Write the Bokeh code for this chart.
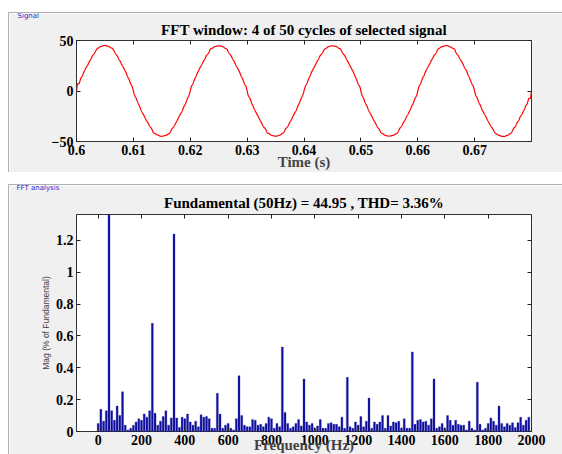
import numpy as np
from bokeh.plotting import figure
from bokeh.layouts import column
from bokeh.models import (Range1d, FixedTicker, NumeralTickFormatter, LinearAxis,
                          CustomJSTickFormatter, Title)
from bokeh.embed import file_html
from bokeh.resources import INLINE

# ---------------- data ----------------
title_top = "FFT window: 4 of 50 cycles of selected signal"
title_bottom = "Fundamental (50Hz) = 44.95 , THD= 3.36%"
fundamental_hz = 50.0
fundamental_amp = 44.95
freq_step = 12.5  # FFT resolution of a 4-cycle (0.08 s) window
t_start, t_end = 0.6, 0.68

# Magnitude (% of fundamental) for 0, 12.5, 25, ... 1987.5 Hz (fundamental bar = 100, clipped)
mags = [
    0.05, 0.14, 0.065, 0.13, 100.0, 0.13, 0.07, 0.16, 0.10, 0.25,
    0.04, 0.01, 0.02, 0.04, 0.06, 0.08, 0.07, 0.11, 0.09, 0.13,
    0.68, 0.115, 0.04, 0.065, 0.095, 0.13, 0.04, 0.085, 1.24, 0.085,
    0.025, 0.09, 0.08, 0.11, 0.06, 0.04, 0.065, 0.03, 0.105, 0.09,
    0.095, 0.08, 0.02, 0.02, 0.24, 0.11, 0.02, 0.04, 0.05, 0.02,
    0.01, 0.08, 0.35, 0.10, 0.04, 0.03, 0.03, 0.075, 0.07, 0.04,
    0.045, 0.03, 0.05, 0.09, 0.08, 0.02, 0.05, 0.03, 0.53, 0.12,
    0.05, 0.02, 0.03, 0.05, 0.075, 0.035, 0.33, 0.06, 0.04, 0.05,
    0.02, 0.035, 0.075, 0.02, 0.02, 0.05, 0.055, 0.045, 0.045, 0.03,
    0.09, 0.02, 0.34, 0.03, 0.02, 0.06, 0.04, 0.095, 0.03, 0.065,
    0.21, 0.02, 0.06, 0.045, 0.06, 0.10, 0.02, 0.10, 0.035, 0.06,
    0.055, 0.065, 0.02, 0.08, 0.02, 0.02, 0.50, 0.045, 0.07, 0.075,
    0.06, 0.065, 0.04, 0.08, 0.33, 0.02, 0.03, 0.05, 0.02, 0.10,
    0.07, 0.04, 0.07, 0.045, 0.04, 0.04, 0.01, 0.065, 0.02, 0.01,
    0.31, 0.045, 0.01, 0.02, 0.05, 0.085, 0.065, 0.04, 0.16, 0.05,
    0.03, 0.05, 0.04, 0.055, 0.025, 0.055, 0.09, 0.04, 0.07, 0.09,
]
freqs = [i * freq_step for i in range(len(mags))]

time_ticks = [0.6, 0.61, 0.62, 0.63, 0.64, 0.65, 0.66, 0.67]
sig_ticks = [-50, 0, 50]
freq_ticks = [0, 200, 400, 600, 800, 1000, 1200, 1400, 1600, 1800, 2000]
mag_ticks = [0, 0.2, 0.4, 0.6, 0.8, 1.0, 1.2]

# waveform rebuilt from the displayed spectrum
t = np.linspace(t_start, t_end, 2001)
sig = np.zeros_like(t)
for f, m in zip(freqs, mags):
    amp = fundamental_amp * (1.0 if f == fundamental_hz else m / 100.0)
    if f == 0:
        sig += amp
    else:
        sig += amp * np.sin(2 * np.pi * f * (t - t_start))

# ---------------- style ----------------
SERIF = "Liberation Serif"
PANEL = "#f0f0f0"
BOXLINE = "#b0b0b0"
BOXCSS = {"border-top": f"1px solid {BOXLINE}", "border-left": f"1px solid {BOXLINE}"}


def style_axis(ax, ticks, fmt=None, size="14px", show=True):
    ax.ticker = FixedTicker(ticks=ticks)
    ax.major_tick_in = 4
    ax.major_tick_out = 0
    ax.minor_tick_line_color = None
    ax.axis_line_color = None
    ax.major_tick_line_color = "#222222"
    ax.major_label_text_font = SERIF
    ax.major_label_text_font_style = "bold"
    ax.major_label_text_color = "black"
    ax.major_label_standoff = 3
    ax.major_label_text_font_size = size
    if fmt:
        ax.formatter = NumeralTickFormatter(format=fmt)
    if not show:
        ax.formatter = CustomJSTickFormatter(code="return ''")
        ax.major_label_text_font_size = "1px"
        ax.major_label_standoff = 0


def make_title(text, size, font, style, color, align="center", offset=0, standoff=0):
    return Title(text=text, text_font=font, text_font_size=size, text_font_style=style,
                 text_color=color, align=align, offset=offset, standoff=standoff)


# ---------------- top: signal ----------------
p1 = figure(width=554, height=160, output_backend="svg", toolbar_location=None,
            x_range=Range1d(t_start, t_end), y_range=Range1d(-50, 50),
            min_border_left=65, min_border_right=31, min_border_top=26, min_border_bottom=32,
            border_fill_color=PANEL, background_fill_color="white",
            outline_line_color="#333333", margin=(12, 0, 12, 8), styles=BOXCSS)
p1.grid.visible = False
style_axis(p1.xaxis[0], time_ticks, "0.[00]")
style_axis(p1.yaxis[0], sig_ticks)
p1.xaxis[0].axis_label = "Time (s)"
p1.xaxis[0].axis_label_text_font = SERIF
p1.xaxis[0].axis_label_text_font_style = "bold"
p1.xaxis[0].axis_label_text_font_size = "15px"
p1.xaxis[0].axis_label_standoff = -4
ax_t = LinearAxis(); style_axis(ax_t, time_ticks, show=False); p1.add_layout(ax_t, "above")
ax_r = LinearAxis(); style_axis(ax_r, sig_ticks, show=False); p1.add_layout(ax_r, "right")
p1.add_layout(make_title(title_top, "15px", SERIF, "bold", "black", standoff=6), "above")
p1.add_layout(make_title("Signal", "7px", "DejaVu Sans", "normal", "#2a2ad0",
                         align="left", offset=-59, standoff=-7), "above")
p1.line(t, sig, line_color="#ff0000", line_width=1.2)

# ---------------- bottom: FFT ----------------
p2 = figure(width=554, height=270, output_backend="svg", toolbar_location=None,
            x_range=Range1d(-100, 2000), y_range=Range1d(0, 1.363),
            min_border_left=67, min_border_right=32, min_border_top=28, min_border_bottom=24,
            border_fill_color=PANEL, background_fill_color="white",
            outline_line_color="#333333", margin=(0, 0, 0, 8), styles=BOXCSS)
p2.grid.visible = False
style_axis(p2.xaxis[0], freq_ticks)
style_axis(p2.yaxis[0], mag_ticks, "0.[0]")
p2.xaxis[0].axis_label = "Frequency (Hz)"
p2.xaxis[0].axis_label_text_font = SERIF
p2.xaxis[0].axis_label_text_font_style = "bold"
p2.xaxis[0].axis_label_text_font_size = "15px"
p2.xaxis[0].axis_label_standoff = -11
p2.yaxis[0].axis_label = "Mag (% of Fundamental)"
p2.yaxis[0].axis_label_text_font = "Liberation Sans"
p2.yaxis[0].axis_label_text_font_style = "normal"
p2.yaxis[0].axis_label_text_font_size = "8.5px"
p2.yaxis[0].axis_label_text_color = "#444444"
p2.yaxis[0].axis_label_standoff = 2
ax_t2 = LinearAxis(); style_axis(ax_t2, freq_ticks, show=False); p2.add_layout(ax_t2, "above")
ax_r2 = LinearAxis(); style_axis(ax_r2, mag_ticks, show=False); p2.add_layout(ax_r2, "right")
p2.add_layout(make_title(title_bottom, "15px", SERIF, "bold", "black", standoff=8), "above")
p2.add_layout(make_title("FFT analysis", "7px", "DejaVu Sans", "normal", "#2a2ad0",
                         align="left", offset=-60, standoff=-7), "above")
p2.vbar(x=freqs, top=mags, width=9.0, fill_color="#10109e", line_color="#10109e", line_width=0.3)

layout = column(p1, p2, spacing=0)
open("out.html", "w").write(file_html(layout, INLINE))
